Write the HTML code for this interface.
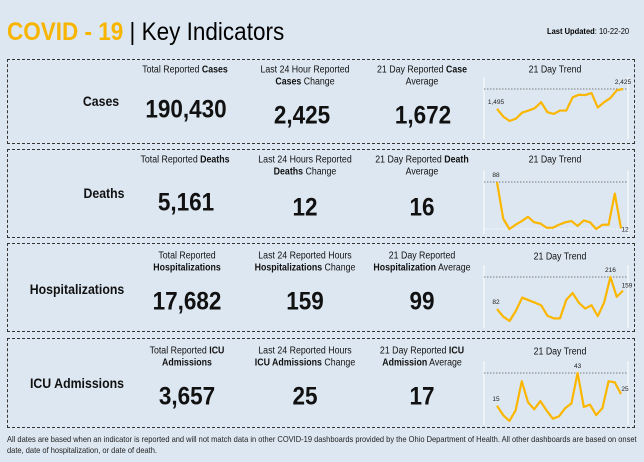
<!DOCTYPE html>
<html><head><meta charset="utf-8"><style>
body{margin:0;width:644px;height:462px;background:#dde7f1;font-family:"Liberation Sans",Arial,sans-serif;position:relative;overflow:hidden}
.t{position:absolute;white-space:nowrap;transform:translate(-50%,-50%) scaleX(.88);color:#111;text-align:center}
.big{transform:translate(-50%,-50%) scaleX(.9)}
.l{position:absolute;white-space:nowrap;transform-origin:left center;transform:scaleX(.82)}
.panel{position:absolute;left:7px;width:628px;border:1.5px dashed #333;box-sizing:border-box}
.h{font-size:10px;line-height:11.5px}
.big{font-size:25px;font-weight:bold}
.lab{font-size:14px;font-weight:bold}
svg{position:absolute;left:0;top:0}
</style></head><body>
<div class="l" style="left:7px;top:18px;font-size:25px;transform:scaleX(.9)"><span style="color:#f7b500;font-weight:bold">COVID - 19</span> | Key Indicators</div>
<div class="l" style="left:547px;top:26px;font-size:8.4px;transform:scaleX(.9)"><b>Last Updated</b>: 10-22-20</div>

<div class="panel" style="top:59px;height:85px"></div>
<div class="panel" style="top:149px;height:89px"></div>
<div class="panel" style="top:243px;height:89px"></div>
<div class="panel" style="top:338px;height:90px"></div>

<div class="t lab" style="left:101px;top:101px">Cases</div>
<div class="t h" style="left:185px;top:70px">Total Reported <b>Cases</b></div>
<div class="t h" style="left:305px;top:76px">Last 24 Hour Reported<br><b>Cases</b> Change</div>
<div class="t h" style="left:422px;top:76px">21 Day Reported <b>Case</b><br>Average</div>
<div class="t big" style="left:186px;top:110px">190,430</div>
<div class="t big" style="left:302px;top:116px">2,425</div>
<div class="t big" style="left:423px;top:116px">1,672</div>
<div class="t h" style="left:555px;top:70px">21 Day Trend</div>

<div class="t lab" style="left:104px;top:193px">Deaths</div>
<div class="t h" style="left:185px;top:160px">Total Reported <b>Deaths</b></div>
<div class="t h" style="left:305px;top:166px">Last 24 Hours Reported<br><b>Deaths</b> Change</div>
<div class="t h" style="left:422px;top:166px">21 Day Reported <b>Death</b><br>Average</div>
<div class="t big" style="left:186px;top:203px">5,161</div>
<div class="t big" style="left:305px;top:208px">12</div>
<div class="t big" style="left:422px;top:208px">16</div>
<div class="t h" style="left:555px;top:160px">21 Day Trend</div>

<div class="t lab" style="left:77px;top:289px">Hospitalizations</div>
<div class="t h" style="left:187px;top:262px">Total Reported<br><b>Hospitalizations</b></div>
<div class="t h" style="left:305px;top:262px">Last 24 Reported Hours<br><b>Hospitalizations</b> Change</div>
<div class="t h" style="left:422px;top:262px">21 Day Reported<br><b>Hospitalization</b> Average</div>
<div class="t big" style="left:187px;top:302px">17,682</div>
<div class="t big" style="left:305px;top:302px">159</div>
<div class="t big" style="left:422px;top:302px">99</div>
<div class="t h" style="left:560px;top:257px">21 Day Trend</div>

<div class="t lab" style="left:77px;top:383px">ICU Admissions</div>
<div class="t h" style="left:187px;top:357px">Total Reported <b>ICU</b><br><b>Admissions</b></div>
<div class="t h" style="left:305px;top:357px">Last 24 Reported Hours<br><b>ICU Admissions</b> Change</div>
<div class="t h" style="left:422px;top:357px">21 Day Reported <b>ICU</b><br><b>Admission</b> Average</div>
<div class="t big" style="left:187px;top:397px">3,657</div>
<div class="t big" style="left:305px;top:397px">25</div>
<div class="t big" style="left:422px;top:397px">17</div>
<div class="t h" style="left:560px;top:352px">21 Day Trend</div>

<div class="l" style="left:7px;top:434px;font-size:8.4px;line-height:10.5px;color:#222;transform:scaleX(.895)">All dates are based when an indicator is reported and will not match data in other COVID-19 dashboards provided by the Ohio Department of Health. All other dashboards are based on onset<br>date, date of hospitalization, or date of death.</div>

<svg id="spark" width="644" height="462"></svg>
<script>
const casesData=[1495,1133,928,1038,1322,1416,1527,1810,1338,1259,1416,1416,2031,2157,2141,2236,1558,1810,2000,2362,2425];
const deathsData=[88,28,11,18,24,31,22,20,13,13,18,22,24,16,25,22,11,18,18,69,12];
const hospData=[82,50,32,75,130,119,109,98,54,43,43,121,149,108,84,98,52,109,216,133,159];
const icuData=[15,7,2,11,36,18,12,19,11,4,6,13,17,43,14,16,7,13,36,35,25];
const charts=[
 {name:'cases',data:casesData,x0:497,x1:623,top:89,bot:121,frameTop:77,frameBot:139,minLine:false},
 {name:'deaths',data:deathsData,x0:497,x1:621,top:182,bot:229,frameTop:170,frameBot:234,minLine:true},
 {name:'hosp',data:hospData,x0:497,x1:623,top:277,bot:321,frameTop:265,frameBot:328,minLine:false},
 {name:'icu',data:icuData,x0:497,x1:621,top:373,bot:421,frameTop:361,frameBot:425,minLine:false}
];
const NS='http://www.w3.org/2000/svg';
const svg=document.getElementById('spark');
function fmt(v){return v.toLocaleString('en-US');}
charts.forEach(c=>{
 const d=c.data,mx=Math.max(...d),mn=Math.min(...d);
 const xs=i=>c.x0+i*(c.x1-c.x0)/(d.length-1);
 const ys=v=>c.bot-(v-mn)/(mx-mn||1)*(c.bot-c.top);
 const frame=document.createElementNS(NS,'path');
 frame.setAttribute('d',`M484 ${c.frameTop}V${c.frameBot}M628 ${c.frameTop}V${c.frameBot}`);
 frame.setAttribute('stroke','#fff');frame.setAttribute('stroke-width','1');
 
 
 svg.appendChild(frame);
 const ml=document.createElementNS(NS,'line');
 ml.setAttribute('x1',484);ml.setAttribute('x2',628);ml.setAttribute('y1',ys(mx));ml.setAttribute('y2',ys(mx));
 ml.setAttribute('stroke','#555');ml.setAttribute('stroke-dasharray','1.5 1.5');ml.setAttribute('stroke-width','0.8');
 
 
 svg.appendChild(ml);
 if(c.minLine){const l2=ml.cloneNode();l2.setAttribute('y1',ys(mn));l2.setAttribute('y2',ys(mn));l2.setAttribute('stroke','#fff');
 
 
 svg.appendChild(l2);}
 const p=document.createElementNS(NS,'polyline');
 p.setAttribute('points',d.map((v,i)=>xs(i)+','+ys(v)).join(' '));
 p.setAttribute('fill','none');p.setAttribute('stroke','#fbb600');p.setAttribute('stroke-width','2.2');p.setAttribute('stroke-linejoin','round');
 
 
 svg.appendChild(p);
 const mi=d.indexOf(mx);
 const labs=[[0,d[0]],[d.length-1,d[d.length-1]]];
 if(mi!==0&&mi!==d.length-1)labs.push([mi,mx]);
 labs.forEach(([i,v])=>{
  const t=document.createElementNS(NS,'text');
  let x=xs(i),y=ys(v)-5;
  if(i===d.length-1&&v!==mx){x+=4;y=ys(v)+(c.name==='deaths'?3:-3);}
  if(i===0)x-=1;
  t.setAttribute('x',x);t.setAttribute('y',y);t.setAttribute('font-size','6.5');t.setAttribute('fill','#222');
  t.setAttribute('text-anchor','middle');t.setAttribute('font-family','Liberation Sans, sans-serif');
  t.textContent=fmt(v);
  
  
  svg.appendChild(t);
 });
});
</script>
</body></html>
